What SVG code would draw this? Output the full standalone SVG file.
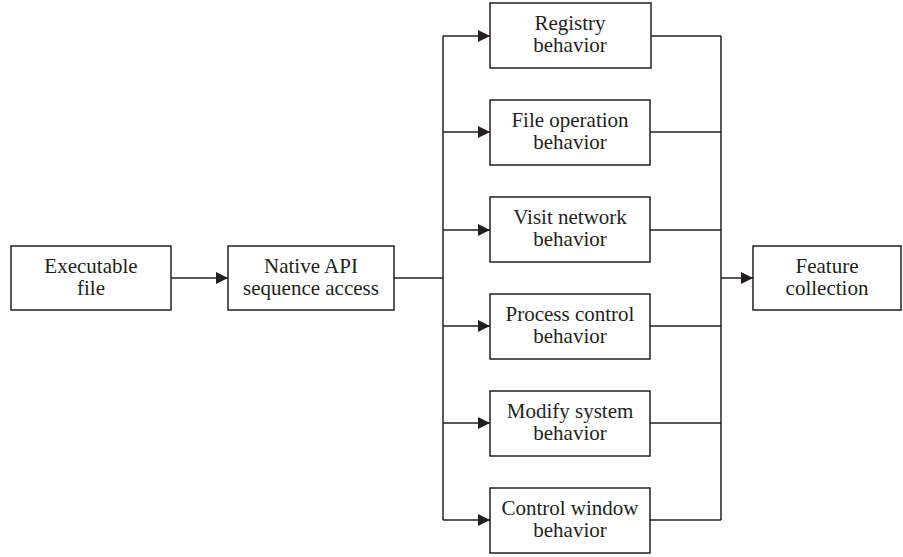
<svg xmlns="http://www.w3.org/2000/svg" width="903" height="557" viewBox="0 0 903 557">
<defs>
<marker id="ah" viewBox="0 0 12 12" refX="12" refY="6" markerWidth="12" markerHeight="12" markerUnits="userSpaceOnUse" orient="auto">
<path d="M0,0 L12,6 L0,12 Z" fill="#231f20"/>
</marker>
<style>
rect{fill:#fff;stroke:#231f20;stroke-width:1.5}
text{font-family:"Liberation Serif","Times New Roman",serif;font-size:21px;fill:#231f20;text-anchor:middle}
.c{fill:none;stroke:#231f20;stroke-width:1.5}
.a{marker-end:url(#ah)}
</style>
</defs>
<rect x="0" y="0" width="903" height="557" style="fill:#fff;stroke:none"/>
<g id="connectors">
<path class="c a" d="M171,278 H228"/>
<path class="c" d="M394,278 H443"/>
<path class="c" d="M443,36 V520"/>
<path class="c a" d="M443,36 H490"/>
<path class="c a" d="M443,132 H490"/>
<path class="c a" d="M443,230 H490"/>
<path class="c a" d="M443,326 H490"/>
<path class="c a" d="M443,423 H490"/>
<path class="c a" d="M443,520 H490"/>
<path class="c" d="M651,36 H721 M650,132 H721 M650,230 H721 M650,326 H721 M650,423 H721 M650,520 H721"/>
<path class="c" d="M721,36 V520"/>
<path class="c a" d="M721,278 H753"/>
</g>
<g id="executable"><rect x="11" y="246" width="160" height="64"/><text x="91" y="273">Executable</text><text x="91" y="295">file</text></g>
<g id="native"><rect x="228" y="246" width="166" height="64"/><text x="311" y="273">Native API</text><text x="311" y="295">sequence access</text></g>
<g id="registry"><rect x="490" y="3" width="161" height="65"/><text x="570" y="30">Registry</text><text x="570" y="52">behavior</text></g>
<g id="fileop"><rect x="490" y="100" width="160" height="65"/><text x="570" y="127">File operation</text><text x="570" y="149">behavior</text></g>
<g id="network"><rect x="490" y="197" width="160" height="65"/><text x="570" y="224">Visit network</text><text x="570" y="246">behavior</text></g>
<g id="process"><rect x="490" y="294" width="160" height="65"/><text x="570" y="321">Process control</text><text x="570" y="343">behavior</text></g>
<g id="modify"><rect x="490" y="391" width="160" height="65"/><text x="570" y="418">Modify system</text><text x="570" y="440">behavior</text></g>
<g id="window"><rect x="490" y="488" width="160" height="65"/><text x="570" y="515">Control window</text><text x="570" y="537">behavior</text></g>
<g id="feature"><rect x="753" y="246" width="148" height="64"/><text x="827" y="273">Feature</text><text x="827" y="295">collection</text></g>
</svg>
